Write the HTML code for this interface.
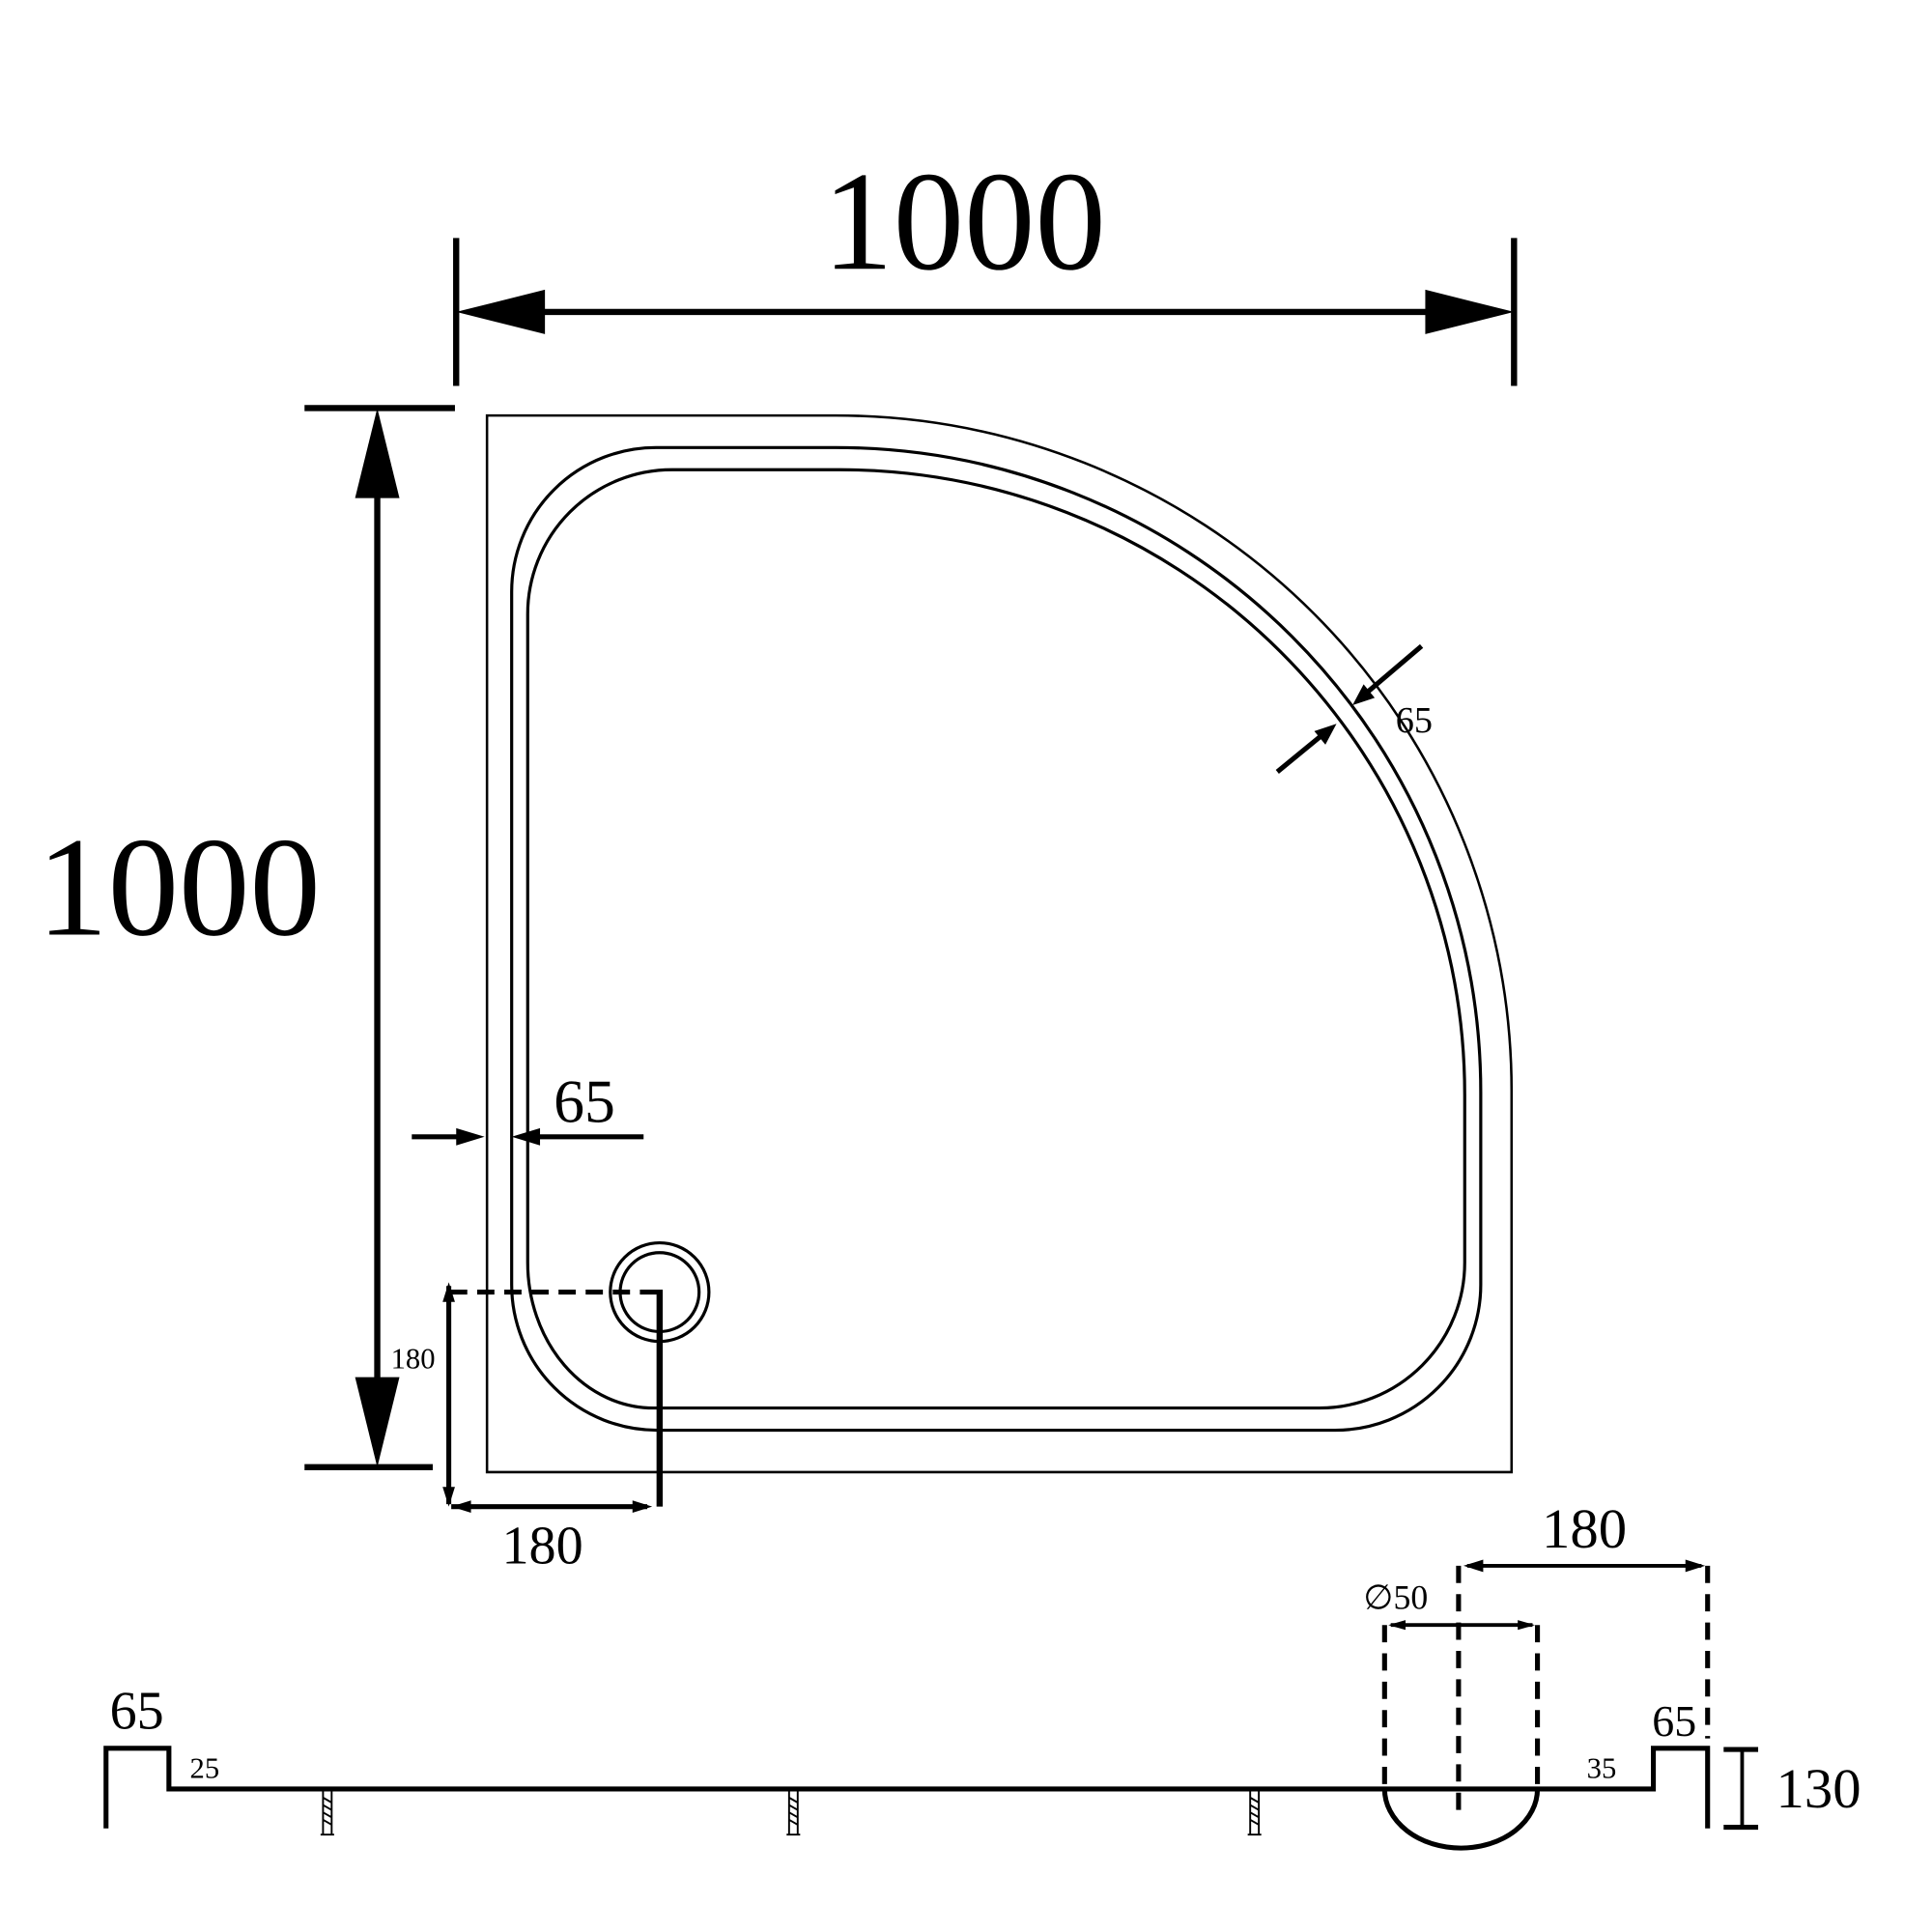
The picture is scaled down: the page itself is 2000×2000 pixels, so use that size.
<!DOCTYPE html><html><head><style>html,body{margin:0;background:#fff}svg{display:block}text{font-family:"Liberation Serif",serif;fill:#000}</style></head><body>
<svg width="2000" height="2000" viewBox="0 0 1567 1567" xmlns="http://www.w3.org/2000/svg">
<g stroke="#000" fill="none">
<line x1="370" y1="193" x2="370" y2="313" stroke-width="5"/>
<line x1="1228" y1="193" x2="1228" y2="313" stroke-width="5"/>
<line x1="400" y1="253" x2="1200" y2="253" stroke-width="5"/>
<line x1="247" y1="331" x2="369" y2="331" stroke-width="5"/>
<line x1="247" y1="1190" x2="351" y2="1190" stroke-width="5"/>
<line x1="306" y1="360" x2="306" y2="1160" stroke-width="5"/>
<path d="M395,337 H678 A548,548 0 0 1 1226,885 V1194 H395 Z" stroke-width="2"/>
<path d="M533,363 H678 A523,523 0 0 1 1201,886 V1042 A118,118 0 0 1 1083,1160 H533 A118,118 0 0 1 415,1042 V480 A117,117 0 0 1 533,363 Z" stroke-width="2.5"/>
<path d="M545,381 H678 A507,507 0 0 1 1188,888 V1024 A118,118 0 0 1 1070,1142 H530 A102,118 0 0 1 428,1024 V498 A117,117 0 0 1 545,381 Z" stroke-width="2.5"/>
<circle cx="535" cy="1048" r="40" stroke-width="2.5"/>
<circle cx="535" cy="1048" r="32" stroke-width="2.5"/>
<line x1="365" y1="1048" x2="535" y2="1048" stroke-width="4" stroke-dasharray="14,8"/>
<line x1="535" y1="1046" x2="535" y2="1222" stroke-width="5"/>
<line x1="364" y1="1043" x2="364" y2="1220" stroke-width="4"/>
<line x1="366" y1="1222" x2="525" y2="1222" stroke-width="4"/>
<line x1="334" y1="922" x2="385" y2="922" stroke-width="4"/>
<line x1="425" y1="922" x2="522" y2="922" stroke-width="4"/>
<line x1="1036" y1="626" x2="1075" y2="594" stroke-width="4"/>
<line x1="1153" y1="524" x2="1106" y2="564" stroke-width="4"/>
<path d="M86,1483 V1418 H137 V1451 H1341 V1418 H1385 V1483" stroke-width="4"/>
<path d="M1123,1451 A62,48 0 0 0 1247,1451" stroke-width="4"/>
<g stroke-width="4" stroke-dasharray="14,9">
<line x1="1123" y1="1318" x2="1123" y2="1451"/>
<line x1="1247" y1="1318" x2="1247" y2="1451"/>
<line x1="1183" y1="1270" x2="1183" y2="1475"/>
<line x1="1385" y1="1270" x2="1385" y2="1410"/>
</g>
<line x1="1190" y1="1270" x2="1380" y2="1270" stroke-width="3"/>
<line x1="1128" y1="1318" x2="1243" y2="1318" stroke-width="3"/>
<line x1="1398" y1="1419" x2="1426" y2="1419" stroke-width="4"/>
<line x1="1398" y1="1482" x2="1426" y2="1482" stroke-width="4"/>
<line x1="1413" y1="1420" x2="1413" y2="1481" stroke-width="3"/>
<g stroke-width="1.5">
<path d="M262,1452 V1488 M269,1452 V1488 M260,1488 H271 M262,1458 L269,1462 M262,1464 L269,1468 M262,1470 L269,1474 M262,1476 L269,1480"/>
<path d="M640,1452 V1488 M647,1452 V1488 M638,1488 H649 M640,1458 L647,1462 M640,1464 L647,1468 M640,1470 L647,1474 M640,1476 L647,1480"/>
<path d="M1014,1452 V1488 M1021,1452 V1488 M1012,1488 H1023 M1014,1458 L1021,1462 M1014,1464 L1021,1468 M1014,1470 L1021,1474 M1014,1476 L1021,1480"/>
</g>
</g>
<g fill="#000">
<polygon points="370,253 442,235 442,271"/>
<polygon points="1228,253 1156,235 1156,271"/>
<polygon points="306,331 288,404 324,404"/>
<polygon points="306,1190 288,1117 324,1117"/>
<polygon points="364,1040 359,1056 369,1056"/>
<polygon points="364,1222 359,1206 369,1206"/>
<polygon points="366,1222 382,1217 382,1227"/>
<polygon points="529,1222 513,1217 513,1227"/>
<polygon points="393,922 370,915 370,929"/>
<polygon points="415,922 438,915 438,929"/>
<polygon points="1084,587 1066,593 1075,604"/>
<polygon points="1097,572 1115,566 1106,555"/>
<polygon points="1187,1270 1203,1265 1203,1275"/>
<polygon points="1383,1270 1367,1265 1367,1275"/>
<polygon points="1126,1318 1140,1314 1140,1322"/>
<polygon points="1245,1318 1231,1314 1231,1322"/>
</g>
<text x="782" y="218" font-size="115" text-anchor="middle">1000</text>
<text x="145" y="758" font-size="115" text-anchor="middle">1000</text>
<text x="474" y="910" font-size="50" text-anchor="middle">65</text>
<text x="1147" y="594" font-size="30" text-anchor="middle">65</text>
<text x="440" y="1268" font-size="44" text-anchor="middle">180</text>
<text x="335" y="1110" font-size="24" text-anchor="middle">180</text>
<text x="111" y="1402" font-size="44" text-anchor="middle">65</text>
<text x="166" y="1442" font-size="24" text-anchor="middle">25</text>
<text x="1299" y="1442" font-size="24" text-anchor="middle">35</text>
<text x="1358" y="1408" font-size="36" text-anchor="middle">65</text>
<text x="1285" y="1255" font-size="46" text-anchor="middle">180</text>
<text x="1132" y="1305" font-size="28" text-anchor="middle">∅50</text>
<text x="1475" y="1466" font-size="46" text-anchor="middle">130</text>
</svg></body></html>
